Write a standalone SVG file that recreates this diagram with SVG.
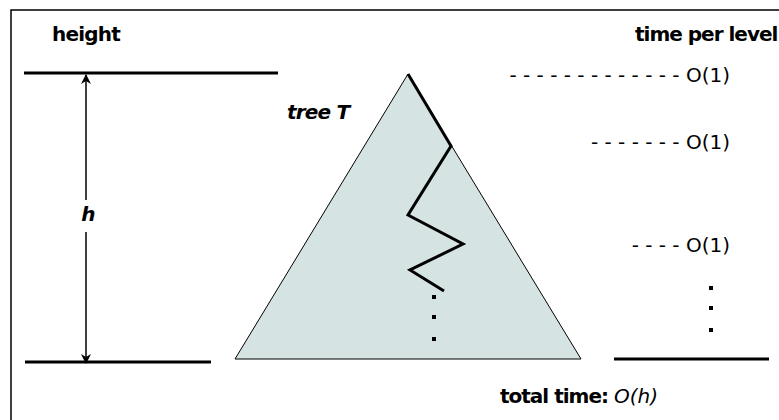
<svg xmlns="http://www.w3.org/2000/svg" width="779" height="420" viewBox="0 0 779 420">
<style>
.b{font-family:"DejaVu Sans",Verdana,sans-serif;font-weight:bold;font-size:20px;letter-spacing:-1px;fill:#000}
.bi{font-family:"DejaVu Sans",Verdana,sans-serif;font-weight:bold;font-style:italic;font-size:20px;letter-spacing:-0.8px;fill:#000}
.n{font-family:"DejaVu Sans",Verdana,sans-serif;font-size:20px;fill:#000}
.i{font-family:"DejaVu Sans",Verdana,sans-serif;font-style:italic;font-size:20px;fill:#000}
.thick{stroke:#000;stroke-width:3;fill:none}
.dot{fill:#000}
</style>
<defs>
<marker id="ah" viewBox="0 0 10 10" refX="9" refY="5" markerWidth="10" markerHeight="10" markerUnits="userSpaceOnUse" orient="auto">
<path d="M0,0 L10,5 L0,10 L3,5 Z" fill="#000"/>
</marker>
</defs>
<rect width="779" height="420" fill="#fff"/>
<path d="M11,420 L11,10 L779,10" fill="none" stroke="#000" stroke-width="1.5"/>

<g id="height-scale">
<text class="b" x="52" y="41" style="letter-spacing:-0.8px">height</text>
<line class="thick" x1="24" y1="73" x2="278" y2="73"/>
<line class="thick" x1="25" y1="362" x2="211" y2="362"/>
<text class="bi" x="88" y="221" text-anchor="middle">h</text>
</g>

<g id="connectors">
<line x1="86" y1="200" x2="86" y2="75" stroke="#000" stroke-width="1.5" marker-end="url(#ah)"/>
<line x1="86" y1="232" x2="86" y2="363" stroke="#000" stroke-width="1.5" marker-end="url(#ah)"/>
</g>

<g id="tree">
<polygon points="408,74 581,359 235,359" fill="#d6e3e3" stroke="#000" stroke-width="1"/>
<polyline class="thick" points="408,74 451,146 408,215 463,244 410,270 444,291"/>
<rect class="dot" x="432" y="295" width="4" height="4"/>
<rect class="dot" x="432" y="315" width="4" height="4"/>
<rect class="dot" x="432" y="337" width="4" height="4"/>
<text class="bi" x="287" y="119">tree T</text>
</g>

<g id="time-per-level">
<text class="b" x="635" y="41">time per level</text>
<text class="n" x="730" y="82" text-anchor="end">- - - - - - - - - - - - - O(1)</text>
<text class="n" x="730" y="149" text-anchor="end">- - - - - - - O(1)</text>
<text class="n" x="730" y="252" text-anchor="end">- - - - O(1)</text>
<rect class="dot" x="709" y="286" width="4" height="4"/>
<rect class="dot" x="709" y="306" width="4" height="4"/>
<rect class="dot" x="709" y="328" width="4" height="4"/>
<line class="thick" x1="614" y1="359" x2="769" y2="359"/>
</g>

<g id="total">
<text x="500" y="403"><tspan class="b">total time: </tspan><tspan class="i">O(h)</tspan></text>
</g>
</svg>
